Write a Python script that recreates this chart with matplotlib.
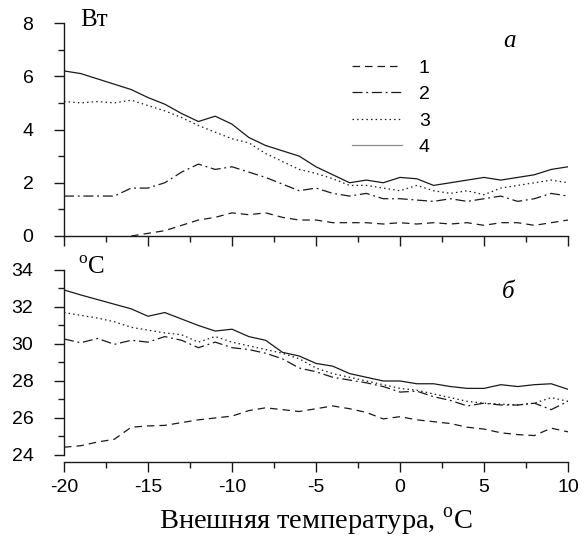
"""Power (a) and temperature (б) vs outside temperature, four series each."""

import numpy as np
import matplotlib

matplotlib.use("Agg")
import matplotlib.pyplot as plt
from matplotlib.ticker import MultipleLocator

plt.rcParams["font.family"] = ["Liberation Sans", "DejaVu Sans"]
plt.rcParams["mathtext.fontset"] = "custom"
plt.rcParams["mathtext.rm"] = "Liberation Serif"
plt.rcParams["axes.unicode_minus"] = False

temps = list(range(-20, 11))

# panel a, W
power_1 = [np.nan, np.nan, np.nan, np.nan, 0.0, 0.1, 0.2, 0.4, 0.6, 0.7, 0.87, 0.8, 0.87, 0.7, 0.6,
           0.6, 0.5, 0.5, 0.5, 0.45, 0.5, 0.45, 0.5, 0.45, 0.5, 0.4, 0.5, 0.5, 0.4, 0.5, 0.6]
power_2 = [1.5, 1.5, 1.5, 1.5, 1.8, 1.8, 2.0, 2.4, 2.7, 2.5, 2.6, 2.4, 2.2, 1.95, 1.7,
           1.8, 1.6, 1.5, 1.6, 1.4, 1.4, 1.35, 1.3, 1.4, 1.3, 1.4, 1.5, 1.3, 1.4, 1.6, 1.5]
power_3 = [5.05, 5.0, 5.05, 5.0, 5.1, 4.9, 4.7, 4.45, 4.15, 3.9, 3.65, 3.5, 3.1, 2.8, 2.5,
           2.35, 2.15, 1.9, 1.9, 1.8, 1.7, 1.9, 1.7, 1.6, 1.7, 1.55, 1.8, 1.9, 2.0, 2.1, 2.0]
power_4 = [6.2, 6.1, 5.9, 5.7, 5.5, 5.2, 4.95, 4.6, 4.3, 4.5, 4.2, 3.7, 3.4, 3.2, 3.0,
           2.6, 2.3, 2.0, 2.1, 2.0, 2.2, 2.15, 1.9, 2.0, 2.1, 2.2, 2.1, 2.2, 2.3, 2.5, 2.6]

# panel б, deg C
temp_1 = [24.42, 24.5, 24.7, 24.85, 25.5, 25.57, 25.6, 25.75, 25.9, 26.0, 26.1, 26.4, 26.55, 26.45, 26.35,
          26.5, 26.65, 26.5, 26.3, 25.95, 26.07, 25.9, 25.8, 25.7, 25.5, 25.4, 25.2, 25.1, 25.05, 25.45, 25.25]
temp_2 = [30.27, 30.07, 30.3, 29.98, 30.2, 30.1, 30.4, 30.2, 29.8, 30.1, 29.8, 29.7, 29.5, 29.2, 28.7,
          28.5, 28.2, 28.05, 27.9, 27.7, 27.4, 27.45, 27.15, 26.95, 26.65, 26.8, 26.7, 26.7, 26.8, 26.45, 26.9]
temp_3 = [31.7, 31.55, 31.4, 31.2, 30.9, 30.75, 30.6, 30.5, 30.1, 30.4, 30.1, 29.9, 29.7, 29.5, 29.2,
          28.7, 28.4, 28.2, 28.0, 27.8, 27.6, 27.5, 27.3, 27.1, 26.9, 26.8, 26.75, 26.7, 26.8, 27.1, 26.9]
temp_4 = [32.92, 32.65, 32.4, 32.15, 31.9, 31.5, 31.7, 31.35, 31.0, 30.7, 30.8, 30.4, 30.2, 29.55, 29.35,
          28.95, 28.8, 28.4, 28.2, 28.0, 28.0, 27.85, 27.85, 27.7, 27.6, 27.6, 27.8, 27.7, 27.8, 27.85, 27.55]

series_labels = ["1", "2", "3", "4"]
styles = [(0, (6, 4)), (0, (8, 3, 1.5, 3)), (0, (1.2, 2.5)), "-"]
ink = "#1a1a1a"

fig = plt.figure(figsize=(5.84, 5.4), dpi=100)
ax_top = fig.add_axes([64 / 584, (540 - 236) / 540, 504 / 584, 213 / 540])
ax_bot = fig.add_axes([64 / 584, (540 - 462) / 540, 504 / 584, 192 / 540])

for ys, ls, lab in zip([power_1, power_2, power_3, power_4], styles, series_labels):
    ax_top.plot(temps, ys, linestyle=ls, color=ink, linewidth=0.9, label=lab)
for ys, ls in zip([temp_1, temp_2, temp_3, temp_4], styles):
    ax_bot.plot(temps, ys, linestyle=ls, color=ink, linewidth=0.9)

ax_top.set_ylim(0, 8)
ax_bot.set_ylim(23.62, 34)
ax_bot.spines["left"].set_bounds(24, 34)

for ax in (ax_top, ax_bot):
    ax.set_xlim(-20, 10)
    for side in ("top", "right"):
        ax.spines[side].set_visible(False)
    for side in ("left", "bottom"):
        ax.spines[side].set_linewidth(1.0)
        ax.spines[side].set_color(ink)
    ax.xaxis.set_major_locator(MultipleLocator(5))
    ax.xaxis.set_minor_locator(MultipleLocator(2.5))
    ax.yaxis.set_major_locator(MultipleLocator(2))
    ax.yaxis.set_minor_locator(MultipleLocator(1))
    ax.tick_params(which="major", direction="out", length=7, width=1.0, color=ink, labelsize=14)
    ax.tick_params(which="minor", direction="out", length=4, width=1.0, color=ink)
    ax.tick_params(axis="y", which="major", pad=15)
    ax.tick_params(axis="x", which="major", pad=5)

ax_top.tick_params(axis="x", labelbottom=False)

leg = ax_top.legend(loc="upper left", bbox_to_anchor=(0.571, 0.83), frameon=False,
                    fontsize=14, handlelength=2.6, handletextpad=0.85, labelspacing=0.45,
                    borderpad=0, borderaxespad=0)
leg.get_lines()[3].set_color("#8a8a8a")

serif = ["Liberation Serif", "DejaVu Serif"]
fig.text(94 / 584, 1 - 20 / 540, "Вт", family=serif, fontsize=18, ha="center", va="center")
fig.text(509 / 584, 1 - 41 / 540, "a", family=serif, style="italic", fontsize=18, ha="center", va="center")
fig.text(508 / 584, 1 - 292 / 540, "б", family=serif, style="italic", fontsize=18, ha="center", va="center")
fig.text(91 / 584, 1 - 268 / 540, r"$^{\mathrm{o}}$C", family=serif, fontsize=18, ha="center", va="center")
fig.text(316 / 584, 1 - 522 / 540, r"Внешняя температура, $^{\mathrm{o}}$C", family=serif,
         fontsize=20.5, ha="center", va="center")

fig.savefig("out.png", dpi=100)
